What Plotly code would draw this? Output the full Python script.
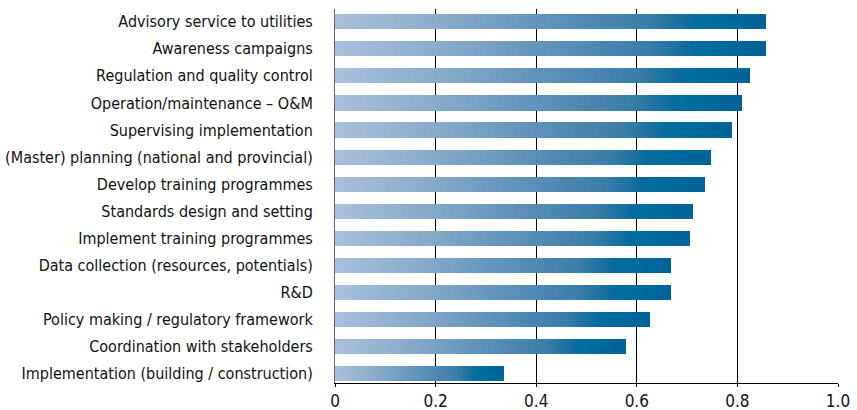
import plotly.graph_objects as go

categories = [
    "Advisory service to utilities",
    "Awareness campaigns",
    "Regulation and quality control",
    "Operation/maintenance – O&M",
    "Supervising implementation",
    "(Master) planning (national and provincial)",
    "Develop training programmes",
    "Standards design and setting",
    "Implement training programmes",
    "Data collection (resources, potentials)",
    "R&D",
    "Policy making / regulatory framework",
    "Coordination with stakeholders",
    "Implementation (building / construction)",
]
values = [0.856, 0.856, 0.826, 0.810, 0.789, 0.748, 0.736, 0.712, 0.706,
          0.668, 0.668, 0.627, 0.579, 0.335]
tick_vals = [0, 0.2, 0.4, 0.6, 0.8, 1.0]
tick_text = ["0", "0.2", "0.4", "0.6", "0.8", "1.0"]

# gradient stops along each bar's length (fraction, colour)
grad_stops = [(0.0, (0xA9, 0xC0, 0xDC)), (0.27, (0x86, 0xA9, 0xC9)),
              (0.5, (0x5F, 0x92, 0xBA)), (0.73, (0x3A, 0x7C, 0xA8)),
              (0.83, (0x0A, 0x6B, 0x9D)), (0.85, (0x00, 0x6E, 0xA0)),
              (1.0, (0x00, 0x63, 0x98))]


def grad_color(f):
    for (f0, c0), (f1, c1) in zip(grad_stops[:-1], grad_stops[1:]):
        if f0 <= f <= f1:
            t = (f - f0) / (f1 - f0) if f1 > f0 else 0
            c = [round(a + (b - a) * t) for a, b in zip(c0, c1)]
            return "rgb(%d,%d,%d)" % tuple(c)
    return "rgb(%d,%d,%d)" % grad_stops[-1][1]


N = 80
fig = go.Figure()
for k in range(N):
    fig.add_trace(go.Bar(
        x=[v / N for v in values], y=categories, orientation="h",
        marker=dict(color=grad_color((k + 0.5) / N), line=dict(width=0)),
        width=0.56, showlegend=False, hoverinfo="skip",
    ))

font_fam = "DejaVu Sans Condensed, Liberation Sans Narrow, sans-serif"
fig.update_layout(
    barmode="stack",
    width=857, height=410,
    margin=dict(l=335, r=19, t=9, b=27, autoexpand=False),
    paper_bgcolor="white", plot_bgcolor="white",
    font=dict(family=font_fam, color="#111111"),
    xaxis=dict(range=[0, 1], tickvals=tick_vals, ticktext=tick_text,
               automargin=False,
               showgrid=True, gridcolor="#000000", gridwidth=1,
               zeroline=False, showline=True, linecolor="#000000", linewidth=1,
               ticks="outside", ticklen=3, tickcolor="#000000",
               tickfont=dict(size=17, family=font_fam, color="#111111")),
    yaxis=dict(categoryorder="array", categoryarray=categories,
               automargin=False,
               range=[13.343, -0.47], showgrid=False, zeroline=False,
               showline=True, linecolor="#666666", linewidth=1,
               ticks="", ticklabelstandoff=18,
               tickfont=dict(size=16, family=font_fam, color="#111111")),
)

fig.write_html("out.html", config={"displayModeBar": False},
               post_script="document.body.style.margin='0';"
                           "document.body.style.overflow='hidden';")
